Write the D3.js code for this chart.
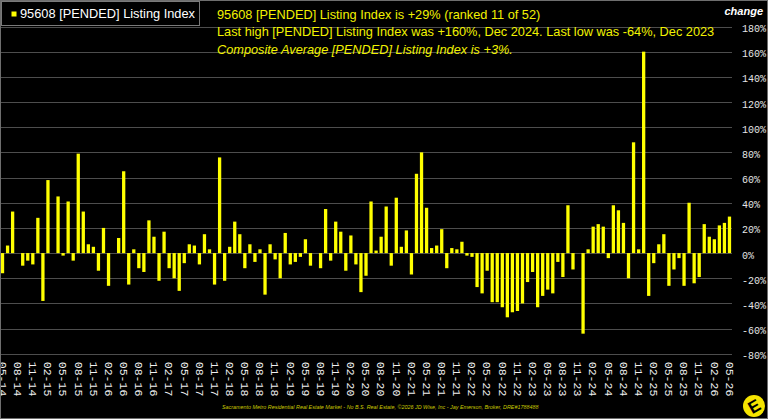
<!DOCTYPE html>
<html>
<head>
<meta charset="utf-8">
<script src="https://cdn.jsdelivr.net/npm/d3@7"></script>
<style>
    html, body { margin: 0; padding: 0; background: #000; }
    svg { display: block; }
</style>
</head>
<body>
<div id="chart"></div>
<script>
// monthly change of the 95608 pended listing index, May 2014 .. May 2026
var firstMonth = new Date(2014, 4, 1);
var lastMonth = new Date(2026, 4, 1);

var values = [
    -16, 6, 33, 0, -10, -6, -9, 28, -38, 58, 0, 45, -2, 41, -6, 79, 33, 7, 5, -14,
    20, -26, 0, 12, 65, -25, 3, -12, -15, 26, 13, -22, 17, -12, -20, -30, -8, 7, 6, -9,
    15, 3, -25, 76, -22, 5, 25, 15, -12, 7, -7, 3, -33, 7, -5, -20, 16, -9, -7, -3,
    11, -10, 0, -12, 35, -6, 25, 17, -14, 14, -9, -31, -18, 41, 2, 13, 37, -10, 44, 5,
    18, -17, 63, 80, 36, 4, 6, 19, -12, 4, 3, 9, -2, -3, -27, -32, -14, -39, -39, -43,
    -51, -47, -46, -40, -23, -15, -43, -34, -29, -32, -7, -19, 38, -13, 0, -64, 3, 21, 23, 21,
    -4, 38, 34, 24, -20, 88, 3, 160, -34, -8, 7, 15, -26, -13, -4, -26, 40, -24, -19, 23,
    13, 11, 22, 24, 29
];

var yTicks = [180, 160, 140, 120, 100, 80, 60, 40, 20, 0, -20, -40, -60, -80];

var legendLabel = "95608 [PENDED] Listing Index";
var noteLines = [
    "95608 [PENDED] Listing Index is +29% (ranked 11 of 52)",
    "Last high [PENDED] Listing Index was +160%, Dec 2024. Last low was -64%, Dec 2023",
    "Composite Average [PENDED] Listing Index is +3%."
];
var footer = "Sacramento Metro Residential Real Estate Market - No B.S. Real Estate, \u00a92026 JD Wise, Inc - Jay Emerson, Broker, DRE#1788488";

var width = 768;
var height = 419;
var plot = {left: 0, right: 732, top: 26.5, bottom: 353.8};

var months = d3.timeMonth.range(firstMonth, d3.timeMonth.offset(lastMonth, 1));
var fmt = d3.timeFormat("%m-%y");
var monthKeys = months.map(function (d) { return fmt(d); });

var svg = d3.select("#chart")
    .append("svg")
    .attr("width", width)
    .attr("height", height);

svg.append("rect")
    .attr("width", width)
    .attr("height", height)
    .attr("fill", "#000");

var x = d3.scaleBand()
    .domain(monthKeys)
    .range([plot.left, plot.right])
    .paddingInner(0.35)
    .paddingOuter(0.175);

var y = d3.scaleLinear()
    .domain([-80, 180])
    .range([plot.bottom, plot.top]);

// grid lines
svg.append("g")
    .selectAll("line")
    .data(yTicks)
    .enter()
    .append("line")
    .attr("x1", plot.left)
    .attr("x2", plot.right)
    .attr("y1", function (d) { return Math.round(y(d)) + 0.5; })
    .attr("y2", function (d) { return Math.round(y(d)) + 0.5; })
    .attr("stroke", "#4d4d4d")
    .attr("stroke-width", 1);

// right axis labels
var yAxis = svg.append("g")
    .attr("transform", "translate(" + (plot.right + 10) + ",0)")
    .call(d3.axisRight(y)
        .tickValues(yTicks)
        .tickSize(0)
        .tickPadding(0)
        .tickFormat(function (d) { return d + "%"; }));
yAxis.select(".domain").remove();
yAxis.selectAll("text")
    .attr("fill", "#e6e6e6")
    .attr("dy", "0.5em")
    .attr("font-family", "'Liberation Mono', monospace")
    .attr("font-size", "10px");

// bars
svg.append("g")
    .selectAll("rect")
    .data(values)
    .enter()
    .append("rect")
    .attr("x", function (d, i) { return x(monthKeys[i]); })
    .attr("width", x.bandwidth())
    .attr("y", function (d) { return y(Math.max(0, d)); })
    .attr("height", function (d) { return Math.abs(y(d) - y(0)); })
    .attr("fill", "#ffff00");

// bottom month labels, every third month
var xAxis = svg.append("g")
    .attr("transform", "translate(0," + plot.bottom + ")")
    .call(d3.axisBottom(x)
        .tickValues(monthKeys.filter(function (d, i) { return i % 3 === 0; }))
        .tickSize(0)
        .tickPadding(0));
xAxis.select(".domain").remove();
xAxis.selectAll("text")
    .attr("transform", "rotate(90)")
    .attr("text-anchor", "start")
    .attr("x", 8)
    .attr("y", 0)
    .attr("dy", "0.32em")
    .attr("fill", "#f0f0f0")
    .attr("font-family", "'Liberation Mono', monospace")
    .attr("font-size", "11.5px");

// legend box
svg.append("rect")
    .attr("x", 1.5)
    .attr("y", 1.5)
    .attr("width", 198)
    .attr("height", 24)
    .attr("fill", "#000")
    .attr("stroke", "#7a7a7a");
svg.append("rect")
    .attr("x", 11.5)
    .attr("y", 11.5)
    .attr("width", 5)
    .attr("height", 5)
    .attr("fill", "#ffff00");
svg.append("text")
    .attr("x", 20)
    .attr("y", 18)
    .attr("fill", "#fff")
    .attr("font-family", "'Liberation Sans', Arial, sans-serif")
    .attr("font-size", "12.8px")
    .text(legendLabel);

// notes
svg.append("g")
    .selectAll("text")
    .data(noteLines)
    .enter()
    .append("text")
    .attr("x", 217)
    .attr("y", function (d, i) { return 18.5 + i * 17.5; })
    .attr("fill", "#f2f200")
    .attr("font-family", "'Liberation Sans', Arial, sans-serif")
    .attr("font-size", "12.75px")
    .attr("font-style", function (d, i) { return i === 2 ? "italic" : "normal"; })
    .text(function (d) { return d; });

svg.append("text")
    .attr("x", 763)
    .attr("y", 14.5)
    .attr("text-anchor", "end")
    .attr("fill", "#fff")
    .attr("font-family", "'Liberation Sans', Arial, sans-serif")
    .attr("font-size", "11px")
    .attr("font-weight", "bold")
    .attr("font-style", "italic")
    .text("change");

// footer
svg.append("text")
    .attr("x", 222)
    .attr("y", 409)
    .attr("fill", "#c8c800")
    .attr("font-family", "'Liberation Sans', Arial, sans-serif")
    .attr("font-size", "5.4px")
    .attr("font-style", "italic")
    .text(footer);

// logo
var logo = svg.append("g")
    .attr("transform", "translate(754,406)");
logo.append("circle")
    .attr("r", 11)
    .attr("fill", "#f5e400");
logo.append("text")
    .attr("transform", "rotate(-30)")
    .attr("text-anchor", "middle")
    .attr("dy", "0.36em")
    .attr("fill", "#000")
    .attr("font-family", "'Liberation Sans', Arial, sans-serif")
    .attr("font-weight", "bold")
    .attr("font-size", "17px")
    .text("E");

// frame
svg.append("rect")
    .attr("x", 0.5)
    .attr("y", 0.5)
    .attr("width", width - 1)
    .attr("height", height - 1)
    .attr("fill", "none")
    .attr("stroke", "#6e6e6e");
</script>
</body>
</html>
